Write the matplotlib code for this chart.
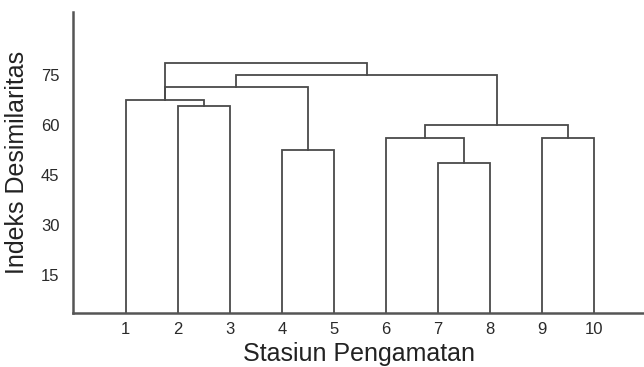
import matplotlib
matplotlib.use("Agg")
import matplotlib.pyplot as plt

plt.rcParams['font.family'] = ['Liberation Sans', 'DejaVu Sans']

# stations (leaves) in drawing order
stations = ['1', '2', '3', '4', '5', '6', '7', '8', '9', '10']

# merges: (left node, right node, height); node ids 0-9 are stations,
# merge k gets id len(stations) + k
merge_left = [1, 0, 3, 11, 6, 5, 8, 15, 13, 11]
merge_right = [2, 10, 4, 12, 7, 14, 9, 16, 17, 18]
merge_height = [65.7, 67.6, 52.6, 71.4, 48.7, 56.3, 56.2, 60.1, 75.1, 78.8]

y_ticks = [15, 30, 45, 60, 75]
y_min, y_max = 3.7, 94

line_color = '#4a4a4a'

fig = plt.figure(figsize=(6.44, 3.67), dpi=100)
ax = fig.add_axes([0.114, 0.148, 0.886, 0.819])

xs = list(range(1, len(stations) + 1))
ys = [y_min] * len(stations)
for l, r, h in zip(merge_left, merge_right, merge_height):
    ax.plot([xs[l], xs[l], xs[r], xs[r]], [ys[l], h, h, ys[r]],
            color=line_color, lw=1.3, solid_joinstyle='miter')
    xs.append((xs[l] + xs[r]) / 2)
    ys.append(h)

ax.set_xlim(0, 10.95)
ax.set_ylim(y_min, y_max)
ax.set_xticks(range(1, len(stations) + 1))
ax.set_xticklabels(stations)
ax.set_yticks(y_ticks)
ax.tick_params(length=0, labelsize=12, colors='#2a2a2a')
ax.tick_params(axis='x', pad=7)
ax.tick_params(axis='y', pad=10)
for s in ['top', 'right']:
    ax.spines[s].set_visible(False)
for s in ['left', 'bottom']:
    ax.spines[s].set_color('#555555')
    ax.spines[s].set_linewidth(1.8)

ax.set_xlabel('Stasiun Pengamatan', fontsize=18, color='#222222', labelpad=3)
ax.set_ylabel('Indeks Desimilaritas', fontsize=18, color='#222222', labelpad=9)

plt.savefig('out.png', dpi=100)
